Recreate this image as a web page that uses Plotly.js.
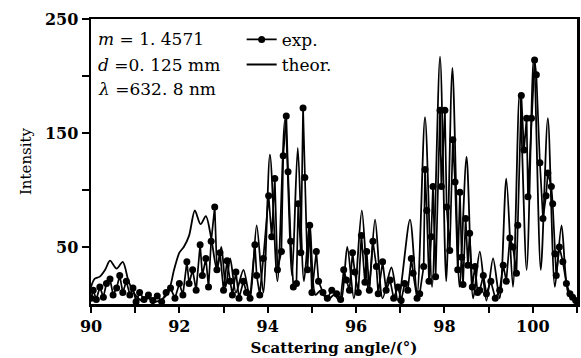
<!DOCTYPE html>
<html>
<head>
<meta charset="utf-8">
<script src="https://cdn.plot.ly/plotly-3.0.1.min.js"></script>
<style>html,body{margin:0;padding:0;background:#fff;}#chart{width:581px;height:358px;}</style>
</head>
<body>
<div id="chart"></div>
<script>
// Theoretical curve (peaks and troughs)
const theorAngle = [90.00,90.08,90.20,90.32,90.43,90.58,90.72,90.85,91.00,91.15,91.30,91.45,91.60,91.75,91.88,92.00,92.10,92.22,92.35,92.48,92.60,92.72,92.85,92.95,93.05,93.15,93.28,93.45,93.60,93.75,93.90,94.05,94.22,94.39,94.55,94.68,94.82,94.95,95.08,95.20,95.35,95.50,95.65,95.80,95.95,96.13,96.28,96.43,96.60,96.80,96.95,97.22,97.38,97.56,97.72,97.90,98.04,98.18,98.34,98.50,98.65,98.80,98.95,99.10,99.25,99.40,99.55,99.70,99.86,100.02,100.18,100.34,100.50,100.65,100.80,100.95];
const theorIntensity = [15,22,24,30,38,31,37,20,8,3,5,2,4,10,30,45,50,60,82,70,77,58,30,50,15,40,10,30,5,69,10,131,20,162,25,137,20,71,8,12,3,8,2,50,5,82,10,74,5,32,3,74,8,164,15,217,20,207,15,129,5,46,3,40,5,110,15,185,30,216,30,163,15,69,10,3];

// Experimental points
const expAngle = [90.00,90.05,90.12,90.20,90.28,90.35,90.43,90.50,90.58,90.65,90.72,90.80,90.88,90.95,91.02,91.10,91.20,91.30,91.40,91.50,91.60,91.70,91.80,91.90,92.00,92.08,92.17,92.22,92.30,92.38,92.47,92.52,92.60,92.66,92.72,92.80,92.85,92.92,93.00,93.08,93.15,93.20,93.28,93.35,93.45,93.52,93.60,93.71,93.75,93.82,93.90,94.02,94.09,94.16,94.22,94.31,94.35,94.42,94.46,94.52,94.58,94.65,94.69,94.75,94.80,94.84,94.90,94.95,95.00,95.10,95.15,95.25,95.35,95.45,95.56,95.65,95.72,95.78,95.85,95.92,95.97,96.05,96.12,96.20,96.24,96.30,96.38,96.46,96.50,96.60,96.68,96.77,96.85,96.95,97.02,97.10,97.17,97.25,97.29,97.38,97.44,97.53,97.56,97.60,97.65,97.70,97.74,97.80,97.90,97.93,98.01,98.05,98.12,98.19,98.24,98.30,98.35,98.39,98.42,98.48,98.53,98.57,98.63,98.69,98.75,98.80,98.88,98.95,99.05,99.15,99.25,99.33,99.40,99.48,99.55,99.63,99.66,99.74,99.80,99.86,99.89,99.97,100.04,100.08,100.16,100.23,100.30,100.34,100.42,100.45,100.50,100.53,100.60,100.68,100.76,100.84,100.90,100.97];
const expIntensity = [5,12,4,15,6,18,22,8,14,25,10,20,8,14,2,10,4,8,3,7,2,10,14,5,18,8,37,18,30,12,52,25,40,15,55,85,30,45,12,38,20,8,28,5,20,10,5,52,25,8,40,95,59,110,30,46,130,165,116,55,15,18,88,45,172,111,30,69,10,46,20,10,5,12,9,4,30,21,12,45,28,10,60,19,46,12,55,33,9,37,12,21,5,15,3,18,12,40,27,5,9,33,118,82,20,59,103,24,170,103,170,85,47,144,107,30,98,41,17,75,34,62,15,33,10,12,25,9,20,5,12,34,20,58,50,27,69,183,135,163,94,163,214,201,124,75,95,115,103,88,44,25,50,37,18,9,6,3];

const xTickVals = [90,91,92,93,94,95,96,97,98,99,100,101];
const xTickText = ['90','','92','','94','','96','','98','','100',''];
const yTickVals = [50,100,150,200,250];
const yTickText = ['50','','150','','250'];

const serif = 'DejaVu Serif, Liberation Serif, serif';

const data = [
  {x: expAngle, y: expIntensity, name: 'exp.', type: 'scatter', mode: 'lines+markers',
   line: {color: '#000', width: 1.7}, marker: {color: '#000', size: 7, symbol: 'circle'}},
  {x: theorAngle, y: theorIntensity, name: 'theor.', type: 'scatter', mode: 'lines',
   line: {color: '#000', width: 1.8, shape: 'spline', smoothing: 0.8}}
];

const layout = {
  width: 581, height: 358,
  margin: {l: 91, r: 4, t: 19, b: 54},
  paper_bgcolor: '#fff', plot_bgcolor: '#fff',
  showlegend: true,
  legend: {x: 0.31, y: 0.99, xanchor: 'left', yanchor: 'top', bgcolor: 'rgba(0,0,0,0)',
           font: {family: serif, size: 17, color: '#000'}, itemwidth: 30, tracegroupgap: 0},
  xaxis: {range: [90, 101], tickmode: 'array', tickvals: xTickVals, ticktext: xTickText,
          ticks: 'outside', ticklen: 6, tickwidth: 2, tickcolor: '#000',
          showline: true, linewidth: 2.5, linecolor: '#000', mirror: true, showgrid: false, zeroline: false,
          tickfont: {family: serif, size: 16, color: '#000', weight: 'bold'},
          title: {text: 'Scattering angle/(°)', standoff: 8, font: {family: serif, size: 15, color: '#000', weight: 'bold'}}},
  yaxis: {range: [0, 250], tickmode: 'array', tickvals: yTickVals, ticktext: yTickText,
          ticks: 'outside', ticklen: 7, tickwidth: 2, tickcolor: '#000',
          showline: true, linewidth: 2.5, linecolor: '#000', mirror: true, showgrid: false, zeroline: false,
          tickfont: {family: serif, size: 16, color: '#000', weight: 'bold'},
          title: {text: 'Intensity', standoff: 10, font: {family: serif, size: 15, color: '#000'}}},
  annotations: [
    {xref: 'paper', yref: 'paper', x: 0.01, y: 0.93, xanchor: 'left', yanchor: 'middle', showarrow: false,
     text: '<i>m</i> = 1. 4571', font: {family: serif, size: 17, color: '#000'}},
    {xref: 'paper', yref: 'paper', x: 0.01, y: 0.84, xanchor: 'left', yanchor: 'middle', showarrow: false,
     text: '<i>d</i> =0. 125 mm', font: {family: serif, size: 17, color: '#000'}},
    {xref: 'paper', yref: 'paper', x: 0.01, y: 0.755, xanchor: 'left', yanchor: 'middle', showarrow: false,
     text: '<i>λ</i> =632. 8 nm', font: {family: serif, size: 17, color: '#000'}}
  ]
};

Plotly.newPlot('chart', data, layout, {staticPlot: true, displayModeBar: false});
</script>
</body>
</html>
